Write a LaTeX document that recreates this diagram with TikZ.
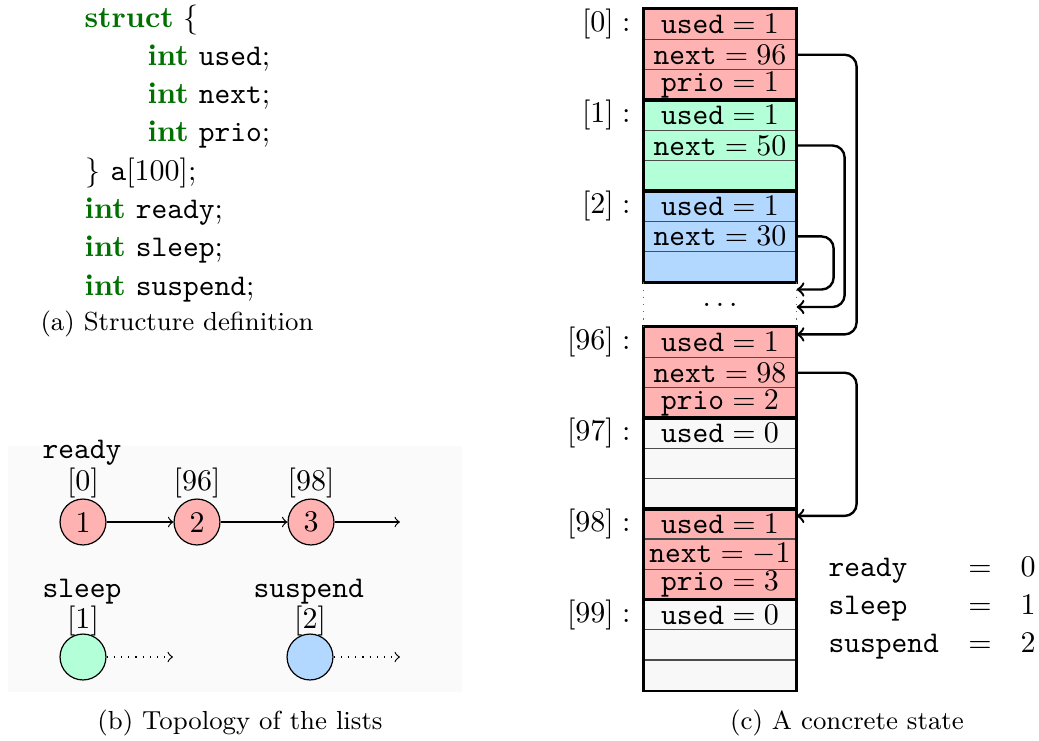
\documentclass[tikz,border=0pt]{standalone}
\usetikzlibrary{calc}
\definecolor{kwc}{RGB}{0,112,0}
\definecolor{cred}{RGB}{255,178,178}
\definecolor{cgreen}{RGB}{178,255,216}
\definecolor{cblue}{RGB}{178,216,255}
\definecolor{cfree}{RGB}{248,248,248}
\definecolor{bgb}{RGB}{250,250,250}
\newcommand{\kwd}[1]{\textcolor{kwc}{\textbf{#1}}}
\newcommand{\fld}[2]{$\texttt{#1}=#2$}
\begin{document}
\begin{tikzpicture}[x=0.3333pt,y=-0.3333pt,
  code/.style={anchor=base west,inner sep=0},
  capt/.style={anchor=base,inner sep=0,font=\fontsize{8.7}{10.5}\selectfont},
  cell/.style={draw=black!70,line width=0.4pt,minimum width=50.67pt,minimum height=10.09pt,inner sep=0},
  elem/.style={draw=black,line width=0.8pt},
  idx/.style={anchor=east,inner sep=0},
  link/.style={->,thick,rounded corners=4pt},
  lnode/.style={circle,draw,minimum size=15.3pt,inner sep=0},
  lbl/.style={anchor=base,inner sep=0},
  tlbl/.style={anchor=base west,inner sep=0,font=\ttfamily}]
\useasboundingbox (0,0) rectangle (1039,740);

% ---------- (a) structure definition
\node[code] (l1) at (84,27) {\kwd{struct} $\{$};
\node[code] (l2) at (147,65.3) {\kwd{int} \texttt{used};};
\node[code] (l3) at (147,103.6) {\kwd{int} \texttt{next};};
\node[code] (l4) at (147,141.9) {\kwd{int} \texttt{prio};};
\node[code] (l5) at (85,180.2) {$\}$ \texttt{a}[100];};
\node[code] (l6) at (84,218.5) {\kwd{int} \texttt{ready};};
\node[code] (l7) at (84,256.8) {\kwd{int} \texttt{sleep};};
\node[code] (l8) at (84,295.1) {\kwd{int} \texttt{suspend};};
\node[capt] (capa) at (177,330) {(a) Structure definition};

% ---------- (b) topology
\fill[bgb] (8,446) rectangle (462,692);
\node[tlbl] (tready) at (42,458) {ready};
\node[lbl] (i0) at (83,490) {[0]};
\node[lbl] (i96) at (197,490) {[96]};
\node[lbl] (i98) at (311,490) {[98]};
\node[lnode,fill=cred] (r1) at (83,522) {1};
\node[lnode,fill=cred] (r2) at (197,522) {2};
\node[lnode,fill=cred] (r3) at (311,522) {3};
\coordinate (rend) at (400,522);
\draw[->] (r1) -- (r2);
\draw[->] (r2) -- (r3);
\draw[->] (r3) -- (rend);
\node[tlbl] (tsleep) at (42,597) {sleep};
\node[lbl] (i1) at (83,628) {[1]};
\node[lnode,fill=cgreen] (s1) at (83,657) {};
\coordinate (send) at (173,657);
\draw[->,dotted] (s1) -- (send);
\node[tlbl] (tsusp) at (253,597) {suspend};
\node[lbl] (i2) at (310,628) {[2]};
\node[lnode,fill=cblue] (p1) at (310,657) {};
\coordinate (pend) at (400,657);
\draw[->,dotted] (p1) -- (pend);
\node[capt] (capb) at (240,729) {(b) Topology of the lists};

% ---------- (c) concrete state
\node[cell,fill=cred] (e0u) at (720,24.4) {\fld{used}{1}};
\node[cell,fill=cred] (e0n) at (720,54.7) {\fld{next}{96}};
\node[cell,fill=cred] (e0p) at (720,85.0) {\fld{prio}{1}};
\node[cell,fill=cgreen] (e1u) at (720,115.2) {\fld{used}{1}};
\node[cell,fill=cgreen] (e1n) at (720,145.5) {\fld{next}{50}};
\node[cell,fill=cgreen] (e1x) at (720,175.8) {};
\node[cell,fill=cblue] (e2u) at (720,206.1) {\fld{used}{1}};
\node[cell,fill=cblue] (e2n) at (720,236.4) {\fld{next}{30}};
\node[cell,fill=cblue] (e2x) at (720,266.6) {};
\node[inner sep=0,minimum width=50.67pt,minimum height=15.2pt] (dots) at (720,304.5) {$\dots$};
\node[cell,fill=cred] (e96u) at (720,342.4) {\fld{used}{1}};
\node[cell,fill=cred] (e96n) at (720,372.7) {\fld{next}{98}};
\node[cell,fill=cred] (e96p) at (720,402.9) {\fld{prio}{2}};
\node[cell,fill=cfree] (e97u) at (720,433.2) {\fld{used}{0}};
\node[cell,fill=cfree] (e97a) at (720,463.4) {};
\node[cell,fill=cfree] (e97b) at (720,493.7) {};
\node[cell,fill=cred] (e98u) at (720,523.9) {\fld{used}{1}};
\node[cell,fill=cred] (e98n) at (720,554.2) {\fld{next}{-1}};
\node[cell,fill=cred] (e98p) at (720,584.4) {\fld{prio}{3}};
\node[cell,fill=cfree] (e99u) at (720,614.7) {\fld{used}{0}};
\node[cell,fill=cfree] (e99a) at (720,644.9) {};
\node[cell,fill=cfree] (e99b) at (720,675.2) {};

\draw[elem] (e0u.north west) rectangle (e0p.south east);
\draw[elem] (e1u.north west) rectangle (e1x.south east);
\draw[elem] (e2u.north west) rectangle (e2x.south east);
\draw[elem] (e96u.north west) rectangle (e96p.south east);
\draw[elem] (e97u.north west) rectangle (e97b.south east);
\draw[elem] (e98u.north west) rectangle (e98p.south east);
\draw[elem] (e99u.north west) rectangle (e99b.south east);
\draw[dotted,black!60] (e2x.south west) -- (e96u.north west);
\draw[dotted,black!60] (e2x.south east) -- (e96u.north east);

\node[idx] (x0) at (631,24.4) {$[0]:$};
\node[idx] (x1) at (631,115.2) {$[1]:$};
\node[idx] (x2) at (631,206.1) {$[2]:$};
\node[idx] (x96) at (631,342.4) {$[96]:$};
\node[idx] (x97) at (631,433.2) {$[97]:$};
\node[idx] (x98) at (631,523.9) {$[98]:$};
\node[idx] (x99) at (631,614.7) {$[99]:$};

\draw[link] (e0n.east) -- ++(60,0) |- ($(e96u.east)+(0,-8)$);
\draw[link] (e1n.east) -- ++(48,0) |- ($(dots.east)+(0,2.5)$);
\draw[link] (e2n.east) -- ++(37,0) |- ($(dots.east)+(0,-15)$);
\draw[link] (e96n.east) -- ++(60,0) |- ($(e98u.east)+(0,-8)$);

\node[tlbl] (vr) at (828,576) {ready};
\node[lbl] (qr) at (980,576) {$=$};
\node[lbl] (nr) at (1028,576) {$0$};
\node[tlbl] (vs) at (828,614) {sleep};
\node[lbl] (qs) at (980,614) {$=$};
\node[lbl] (ns) at (1028,614) {$1$};
\node[tlbl] (vp) at (828,652) {suspend};
\node[lbl] (qp) at (980,652) {$=$};
\node[lbl] (np) at (1028,652) {$2$};
\node[capt] (capc) at (847,729) {(c) A concrete state};
\end{tikzpicture}
\end{document}
